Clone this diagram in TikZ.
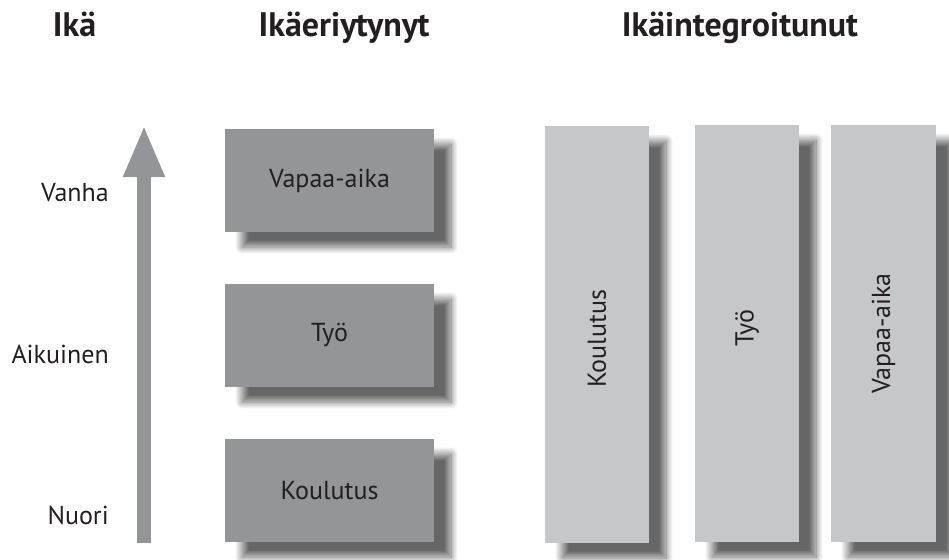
\documentclass[tikz,border=0pt]{standalone}
\usepackage{fontspec}
\setmainfont{PT Sans}
\usetikzlibrary{shadows.blur,arrows.meta}
\definecolor{darkbox}{HTML}{939598}
\definecolor{lightbox}{HTML}{C6C7C9}
\definecolor{txt}{HTML}{231F20}
\tikzset{
  x=1pt,y=-1pt,
  boxshadow/.style={blur shadow={shadow xshift=17pt,shadow yshift=-15pt,shadow blur radius=7pt,shadow opacity=60,shadow blur steps=14}},
  bodyfont/.style={font=\fontsize{26}{30}\selectfont},
  agebox/.style={fill=darkbox,draw=none,minimum width=209pt,minimum height=103pt,inner sep=0pt,boxshadow,text=txt,bodyfont},
  colbox/.style={fill=lightbox,draw=none,minimum width=104pt,minimum height=417pt,inner sep=0pt,boxshadow},
  coltext/.style={rotate=90,text=txt,bodyfont},
  header/.style={text=txt,anchor=base,inner sep=0pt,font=\bfseries\fontsize{34}{40}\selectfont},
  agelabel/.style={text=txt,anchor=base east,inner sep=0pt,bodyfont},
}
\begin{document}
\begin{tikzpicture}
\useasboundingbox (0,0) rectangle (949,559);
\node[header] (h1) at (74.5,37) {Ikä};
\node[header] (h2) at (344,37) {Ikäeriytynyt};
\node[header] (h3) at (740,37) {Ikäintegroitunut};

\coordinate (abot) at (144,543);
\coordinate (atop) at (144,125);
\draw[darkbox,line width=14pt,-{Triangle[width=38pt,length=52pt]}] (abot) -- (atop);

\node[agelabel] (vanha) at (109,201) {Vanha};
\node[agelabel] (aikuinen) at (109,363) {Aikuinen};
\node[agelabel] (nuori) at (109,524) {Nuori};

\node[agebox] (b1) at (329.5,180.5) {Vapaa-aika};
\node[agebox] (b2) at (329.5,335.5) {Työ};
\node[agebox] (b3) at (329.5,490.5) {Koulutus};

\node[colbox] (c1) at (597,334.5) {};
\node[colbox] (c2) at (747,333.5) {};
\node[colbox,minimum width=105pt] (c3) at (883.5,333.5) {};
\node[coltext] (t1) at (597,339) {Koulutus};
\node[coltext] (t2) at (747,328) {Työ};
\node[coltext] (t3) at (c3) {Vapaa-aika};
\end{tikzpicture}
\end{document}
